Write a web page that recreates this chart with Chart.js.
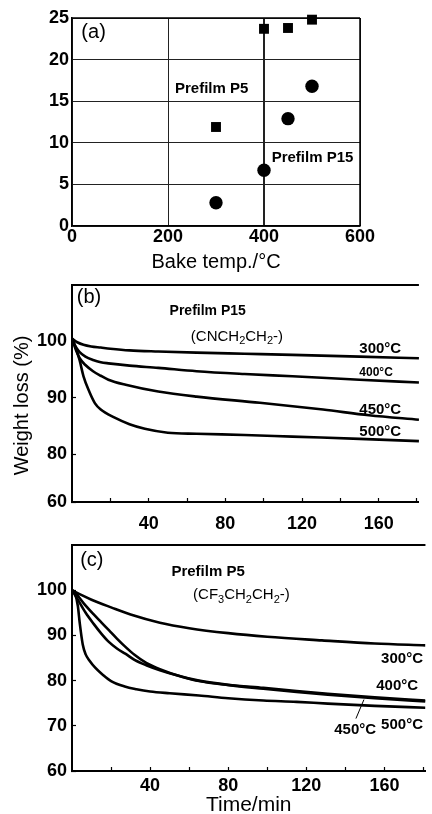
<!DOCTYPE html>
<html>
<head>
<meta charset="utf-8">
<title>Prefilm weight loss</title>
<script src="https://cdn.jsdelivr.net/npm/chart.js@4.4.1/dist/chart.umd.min.js"></script>
<style>
  html, body { margin: 0; padding: 0; background: #fff; }
  body { position: relative; width: 432px; height: 814px; overflow: hidden; }
  canvas { position: absolute; left: 0; }
</style>
</head>
<body>
<canvas id="bakeChart" width="432" height="276" style="top:0"></canvas>
<canvas id="p15Chart" width="432" height="266" style="top:276px"></canvas>
<canvas id="p5Chart" width="432" height="272" style="top:542px"></canvas>
<script>
const FONT = '"Liberation Sans", Arial, Helvetica, sans-serif';
Chart.defaults.font.family = FONT;
Chart.defaults.color = '#000';
Chart.defaults.animation = false;

// (a) weight loss vs bake temperature
const bakeTemps = [300, 400, 450, 500];
const lossP5 = [11.9, 23.7, 23.8, 24.8];
const lossP15 = [2.8, 6.7, 12.9, 16.8];
const bakeTicks = [0, 200, 400, 600];
const lossTicks = [0, 5, 10, 15, 20, 25];

// (b) Prefilm P15, isothermal runs
const p15Time300 = [0, 3, 6, 10, 15, 20, 30, 45, 65, 90, 115, 150, 181];
const p15Wt300 = [100.5, 99.8, 99.4, 99.1, 98.9, 98.7, 98.4, 98.2, 98.0, 97.8, 97.6, 97.3, 97.0];
const p15Time400 = [0, 2, 4, 7, 11, 15, 19, 30, 45, 65, 90, 115, 150, 181];
const p15Wt400 = [100.5, 99.0, 98.1, 97.3, 96.7, 96.3, 96.1, 95.7, 95.3, 94.7, 94.2, 93.8, 93.2, 92.7];
const p15Time450 = [0, 2, 4, 7, 11, 15, 19, 28, 45, 65, 98, 131, 155, 181];
const p15Wt450 = [100.5, 98.5, 97.0, 95.8, 94.7, 93.9, 93.2, 92.3, 91.1, 90.2, 89.1, 87.9, 86.9, 86.1];
const p15Time500 = [0, 2, 4, 6, 9, 12, 15, 22, 30, 38, 50, 65, 90, 115, 150, 181];
const p15Wt500 = [100.5, 98.8, 96.6, 93.8, 91.1, 89.0, 87.9, 86.5, 85.3, 84.5, 83.8, 83.6, 83.4, 83.1, 82.7, 82.3];

// (c) Prefilm P5, isothermal runs
const p5Time300 = [0, 5, 10, 20, 30, 45, 60, 80, 100, 128, 155, 181];
const p5Wt300 = [100, 98.9, 97.9, 96.2, 94.6, 92.8, 91.6, 90.5, 89.7, 88.9, 88.2, 87.8];
const p5Time400 = [0, 2.5, 6, 11, 15, 19, 23, 27.5, 32, 38, 45, 55, 65, 80, 98, 115, 131, 155, 181];
const p5Wt400 = [100, 99.0, 97.1, 94.7, 92.9, 91.1, 89.3, 87.4, 85.7, 83.9, 82.5, 81.0, 80.0, 79.1, 78.4, 77.7, 77.1, 76.3, 75.6];
const p5Time450 = [0, 3, 7, 11, 15, 19, 23, 27.5, 32, 38, 45, 55, 65, 80, 98, 115, 131, 155, 181];
const p5Wt450 = [100, 97.9, 95.0, 92.6, 90.4, 88.5, 87.1, 85.9, 84.6, 83.4, 82.3, 81.0, 79.9, 79.0, 78.2, 77.5, 76.9, 76.1, 75.4];
const p5Time500 = [0, 1.5, 3, 4, 5.5, 7, 9, 12, 16, 20, 27, 33, 40, 50, 65, 80, 98, 115, 131, 155, 181];
const p5Wt500 = [100, 99.3, 96.5, 92.6, 88.0, 85.8, 84.4, 82.8, 81.2, 79.9, 78.7, 78.1, 77.6, 77.2, 76.7, 76.1, 75.6, 75.3, 74.9, 74.4, 74.0];

const timeTicks = [20, 40, 60, 80, 100, 120, 140, 160, 180];
const timeLabels = [40, 80, 120, 160];
const wtTicksB = [71.5, 80, 90, 100];
const wtLabelsB = ['60', '80', '90', '100'];
const wtTicksC = [60, 70, 80, 90, 100];

const pts = (xs, ys) => xs.map((v, i) => ({ x: v, y: ys[i] }));
const fixTicks = list => scale => { scale.ticks = list.map(v => ({ value: v })); };
// y axes keep a fixed width and do not push the plot down for their labels
const fixYAxis = scale => { scale.width = 72; scale.paddingTop = 0; scale.paddingBottom = 0; };

// text, leader lines and the missing frame sides
const notes = {
  id: 'notes',
  afterDraw(chart, args, opts) {
    const { ctx, chartArea: a, scales: { x, y } } = chart;
    ctx.save();
    ctx.strokeStyle = '#000';
    ctx.lineWidth = opts.frameWidth || 1.5;
    ctx.beginPath();
    if (opts.top) { ctx.moveTo(a.left, a.top); ctx.lineTo(a.right, a.top); }
    if (opts.right) { ctx.moveTo(a.right, a.top); ctx.lineTo(a.right, a.bottom); }
    ctx.stroke();

    ctx.lineWidth = 1;
    (opts.leaders || []).forEach(([x1, y1, x2, y2]) => {
      ctx.beginPath();
      ctx.moveTo(x.getPixelForValue(x1), y.getPixelForValue(y1));
      ctx.lineTo(x.getPixelForValue(x2), y.getPixelForValue(y2));
      ctx.stroke();
    });

    ctx.fillStyle = '#000';
    ctx.textBaseline = 'middle';
    ctx.textAlign = 'left';
    (opts.labels || []).forEach(n => {
      let px = x.getPixelForValue(n.x);
      const py = y.getPixelForValue(n.y);
      const parts = Array.isArray(n.text) ? n.text : [[n.text, false]];
      parts.forEach(([s, sub]) => {
        const size = sub ? Math.round(n.size * 0.7) : n.size;
        ctx.font = (n.bold ? 'bold ' : '') + size + 'px ' + FONT;
        ctx.fillText(s, px, sub ? py + n.size * 0.3 : py);
        px += ctx.measureText(s).width;
      });
    });

    // vertical axis caption, centred a little below the middle of the plot
    if (opts.yCaption) {
      const c = opts.yCaption;
      ctx.font = c.size + 'px ' + FONT;
      ctx.textAlign = 'center';
      ctx.translate(c.left, (a.top + a.bottom) / 2 + c.shift);
      ctx.rotate(-Math.PI / 2);
      ctx.fillText(c.text, 0, 0);
    }
    ctx.restore();
  }
};

const tickFont = { size: 18, weight: 'bold' };

// ---- (a) ----
new Chart(document.getElementById('bakeChart'), {
  type: 'scatter',
  data: {
    datasets: [
      { label: 'Prefilm P5', data: pts(bakeTemps, lossP5), pointStyle: 'rect', pointRadius: 7,
        backgroundColor: '#000', borderColor: '#000', borderWidth: 0, clip: false },
      { label: 'Prefilm P15', data: pts(bakeTemps, lossP15), pointStyle: 'circle', pointRadius: 6.7,
        backgroundColor: '#000', borderColor: '#000', borderWidth: 0, clip: false }
    ]
  },
  options: {
    responsive: false,
    layout: { padding: { top: 18, right: 72, left: 0, bottom: 0 } },
    plugins: {
      legend: { display: false },
      tooltip: { enabled: false },
      notes: {
        top: true, right: true, frameWidth: 1.5,
        labels: [
          { text: '(a)', x: 19.5, y: 23.25, size: 20 },
          { text: 'Prefilm P5', x: 214.5, y: 16.5, size: 15, bold: true },
          { text: 'Prefilm P15', x: 416, y: 8.15, size: 15, bold: true }
        ]
      }
    },
    scales: {
      x: {
        type: 'linear', min: 0, max: 600,
        afterBuildTicks: fixTicks(bakeTicks),
        afterFit: s => { s.height = 50; },
        grid: { color: '#222', lineWidth: c => (c.tick && c.tick.value === 400 ? 2 : 1), drawTicks: false },
        border: { color: '#000', width: 1.5 },
        ticks: { padding: 0, font: tickFont, maxRotation: 0 },
        title: { display: true, text: 'Bake temp./°C', font: { size: 20 }, padding: { top: 0, bottom: 2 } }
      },
      y: {
        min: 0, max: 25,
        afterBuildTicks: fixTicks(lossTicks),
        afterFit: fixYAxis,
        grid: { color: '#222', lineWidth: 1, drawTicks: false },
        border: { color: '#000', width: 1.5 },
        ticks: { padding: 3, font: tickFont }
      }
    }
  },
  plugins: [notes]
});

// shared setup for the two weight-loss panels
function curve(label, xs, ys) {
  return { label, data: pts(xs, ys), borderColor: '#000', borderWidth: 2.6, pointRadius: 0,
           fill: false, cubicInterpolationMode: 'monotone' };
}

function timeAxis(height, pad, title) {
  return {
    type: 'linear', min: 0, max: 181,
    afterBuildTicks: fixTicks(timeTicks),
    afterFit: s => { s.height = height; },
    grid: { drawOnChartArea: false, drawTicks: true, tickLength: -4, tickColor: '#000', tickWidth: 1.2 },
    border: { color: '#000', width: 2 },
    ticks: { padding: pad, font: tickFont, autoSkip: false, maxRotation: 0,
             callback: v => (timeLabels.includes(v) ? String(v) : '') },
    title: title
  };
}

// ---- (b) ----
new Chart(document.getElementById('p15Chart'), {
  type: 'line',
  data: {
    datasets: [
      curve('300°C', p15Time300, p15Wt300),
      curve('400°C', p15Time400, p15Wt400),
      curve('450°C', p15Time450, p15Wt450),
      curve('500°C', p15Time500, p15Wt500)
    ]
  },
  options: {
    responsive: false,
    layout: { padding: { top: 9, right: 0, left: 0, bottom: 0 } },
    plugins: {
      legend: { display: false },
      tooltip: { enabled: false },
      notes: {
        top: true, frameWidth: 2,
        yCaption: { text: 'Weight loss (%)', size: 20, left: 22, shift: 12 },
        labels: [
          { text: '(b)', x: 2.5, y: 107.7, size: 20 },
          { text: 'Prefilm P15', x: 50.9, y: 105.3, size: 14, bold: true },
          { text: [['(CNCH', false], ['2', true], ['CH', false], ['2', true], ['-)', false]], x: 62, y: 100.8, size: 15 },
          { text: '300°C', x: 149.9, y: 98.67, size: 15, bold: true },
          { text: '400°C', x: 149.9, y: 94.37, size: 12, bold: true },
          { text: '450°C', x: 149.9, y: 87.9, size: 15, bold: true },
          { text: '500°C', x: 149.9, y: 84.0, size: 15, bold: true }
        ]
      }
    },
    scales: {
      x: timeAxis(40, 15, { display: false }),
      y: {
        min: 71.5, max: 110,
        afterBuildTicks: fixTicks(wtTicksB),
        afterFit: fixYAxis,
        grid: { drawOnChartArea: false, tickLength: -4, tickColor: '#000', tickWidth: 1.2 },
        border: { color: '#000', width: 2 },
        ticks: { padding: 9, font: tickFont, callback: v => wtLabelsB[wtTicksB.indexOf(v)] }
      }
    }
  },
  plugins: [notes]
});

// ---- (c) ----
new Chart(document.getElementById('p5Chart'), {
  type: 'line',
  data: {
    datasets: [
      curve('300°C', p5Time300, p5Wt300),
      curve('400°C', p5Time400, p5Wt400),
      curve('450°C', p5Time450, p5Wt450),
      curve('500°C', p5Time500, p5Wt500)
    ]
  },
  options: {
    responsive: false,
    layout: { padding: { top: 3, right: 0, left: 0, bottom: 0 } },
    plugins: {
      legend: { display: false },
      tooltip: { enabled: false },
      notes: {
        top: true, frameWidth: 2,
        leaders: [[145.4, 71.6, 149.5, 75.8]],
        labels: [
          { text: '(c)', x: 4.2, y: 106.65, size: 20 },
          { text: 'Prefilm P5', x: 50.9, y: 104.0, size: 15, bold: true },
          { text: [['(CF', false], ['3', true], ['CH', false], ['2', true], ['CH', false], ['2', true], ['-)', false]], x: 62, y: 98.9, size: 15 },
          { text: '300°C', x: 158.3, y: 84.9, size: 15, bold: true },
          { text: '400°C', x: 155.8, y: 78.8, size: 15, bold: true },
          { text: '450°C', x: 134.3, y: 69.0, size: 15, bold: true },
          { text: '500°C', x: 158.3, y: 70.1, size: 15, bold: true }
        ]
      }
    },
    scales: {
      x: timeAxis(43, 8.5, { display: true, text: 'Time/min', font: { size: 21, lineHeight: 0.8 }, padding: 0 }),
      y: {
        min: 60, max: 110,
        afterBuildTicks: fixTicks(wtTicksC),
        afterFit: fixYAxis,
        grid: { drawOnChartArea: false, tickLength: -4, tickColor: '#000', tickWidth: 1.2 },
        border: { color: '#000', width: 2 },
        ticks: { padding: 9, font: tickFont }
      }
    }
  },
  plugins: [notes]
});
</script>
</body>
</html>
